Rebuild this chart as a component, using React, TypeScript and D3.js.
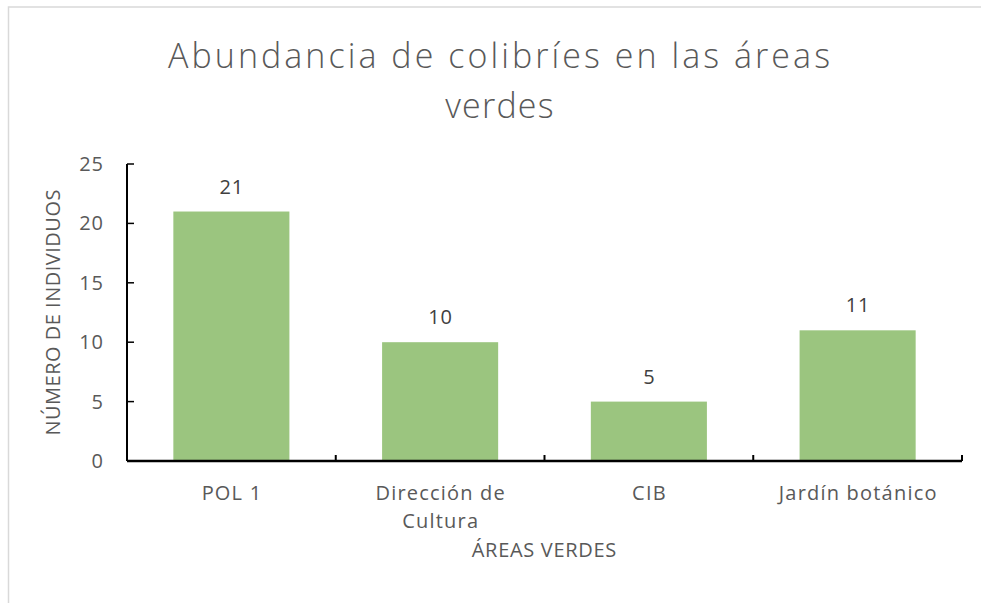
import React from "react";
import * as d3 from "d3";

const categories: string[][] = [["POL 1"], ["Dirección de", "Cultura"], ["CIB"], ["Jardín botánico"]];
const values: number[] = [21, 10, 5, 11];
const yTicks: number[] = [0, 5, 10, 15, 20, 25];
const titleLines: string[] = ["Abundancia de colibríes en las áreas", "verdes"];
const yTitle = "NÚMERO DE INDIVIDUOS";
const xTitle = "ÁREAS VERDES";

const W = 981;
const H = 603;
const plotLeft = 127;
const plotRight = 962;
const plotTop = 164;
const plotBottom = 461;
const font = "'Open Sans', sans-serif";
const gray = "#595959";
const fs = 20;
const ls = 1.2;

export default function App() {
  const x = d3
    .scaleBand<number>()
    .domain(values.map((_, i) => i))
    .range([plotLeft, plotRight])
    .paddingInner(0.444)
    .paddingOuter(0.222);
  const step = (plotRight - plotLeft) / values.length;
  const y = d3.scaleLinear().domain([0, 25]).range([plotBottom, plotTop]);

  return (
    <svg
      width={W}
      height={H}
      style={{ position: "absolute", left: 0, top: 0, background: "#fff" }}
      fontFamily={font}
    >
      <rect x={8.5} y={7} width={1000} height={1000} fill="#fff" stroke="#d9d9d9" strokeWidth={1.5} />
      <text
        x={499}
        y={68}
        textAnchor="middle"
        fontSize={34}
        fontWeight={300}
        fill={gray}
        textLength={662}
        lengthAdjust="spacing"
      >
        {titleLines[0]}
      </text>
      <text
        x={500}
        y={118}
        textAnchor="middle"
        fontSize={34}
        fontWeight={300}
        fill={gray}
        letterSpacing={1.2}
      >
        {titleLines[1]}
      </text>
      {values.map((v, i) => (
        <g key={i}>
          <rect
            x={x(i)!}
            y={y(v)}
            width={x.bandwidth()}
            height={y(0) - y(v)}
            fill="#9bc57f"
          />
          <text
            x={x(i)! + x.bandwidth() / 2 + 0.5}
            y={y(v) - 18}
            textAnchor="middle"
            fontSize={fs}
            fill="#404040"
            letterSpacing={1}
          >
            {v}
          </text>
        </g>
      ))}
      {/* y axis */}
      <line x1={plotLeft} x2={plotLeft} y1={plotTop} y2={plotBottom} stroke="#000" strokeWidth={2} />
      {yTicks.map((t) => (
        <g key={t}>
          <line x1={plotLeft} x2={plotLeft + 7} y1={y(t)} y2={y(t)} stroke="#000" strokeWidth={1.5} />
          <text x={103 + 1} y={y(t) + 7} textAnchor="end" fontSize={fs} fill={gray} letterSpacing={1}>
            {t}
          </text>
        </g>
      ))}
      {/* x axis */}
      <line x1={plotLeft} x2={plotRight} y1={plotBottom} y2={plotBottom} stroke="#000" strokeWidth={2.5} />
      {d3.range(values.length + 1).map((i) => (
        <line
          key={i}
          x1={plotLeft + i * step}
          x2={plotLeft + i * step}
          y1={plotBottom}
          y2={plotBottom - 6}
          stroke="#000"
          strokeWidth={2}
        />
      ))}
      {categories.map((lines, i) => (
        <text
          key={i}
          y={500}
          textAnchor="middle"
          fontSize={fs}
          fill={gray}
          letterSpacing={ls}
        >
          {lines.map((l, j) => (
            <tspan key={j} x={x(i)! + x.bandwidth() / 2 + ls / 2} dy={j === 0 ? 0 : 28}>
              {l}
            </tspan>
          ))}
        </text>
      ))}
      <text x={544 + 0.4} y={557} textAnchor="middle" fontSize={fs} fill={gray} letterSpacing={0.7}>
        {xTitle}
      </text>
      <text
        transform={`translate(60,312.3) rotate(-90)`}
        textAnchor="middle"
        fontSize={fs}
        fill={gray}
        letterSpacing={0.5}
      >
        {yTitle}
      </text>
    </svg>
  );
}
